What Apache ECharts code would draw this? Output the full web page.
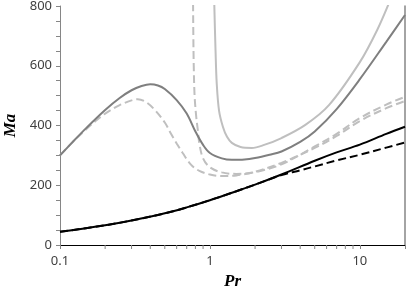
<!DOCTYPE html>
<html><head><meta charset="utf-8">
<script src="https://cdn.jsdelivr.net/npm/echarts@6/dist/echarts.min.js"></script>
<style>html,body{margin:0;padding:0;background:#fff}#c{width:407px;height:289px}</style>
</head><body><div id="c"></div>
<script>
// Data (Pr, Ma)
const blackSolidPr = [0.1, 0.2, 0.3, 0.5, 0.7, 1, 1.5, 2, 3, 5, 7, 10, 15, 20];
const blackSolidMa = [44, 66, 82, 106, 126, 150, 180, 202, 236, 282, 310, 336, 372, 396];
const blackDashPr = [0.1, 0.2, 0.3, 0.5, 0.7, 1, 1.5, 2, 3, 4, 5, 7, 10, 15, 20];
const blackDashMa = [44, 66, 82, 106, 126, 150, 180, 202, 234, 250, 263, 283, 302, 326, 343];
const darkSolidPr = [0.1, 0.12, 0.15, 0.2, 0.25, 0.3, 0.35, 0.4, 0.45, 0.5, 0.6, 0.7, 0.8, 0.9, 1, 1.2, 1.4, 1.7, 2, 2.5, 3, 4, 5, 7, 10, 15, 20];
const darkSolidMa = [300, 342, 392, 452, 492, 518, 532, 538, 534, 522, 485, 440, 380, 335, 308, 290, 285, 286, 291, 302, 313, 345, 380, 455, 555, 680, 770];
const greyDashPr = [0.1, 0.12, 0.15, 0.17, 0.2, 0.25, 0.3, 0.33, 0.37, 0.42, 0.5, 0.55, 0.6, 0.66, 0.75, 0.85, 1, 1.2, 1.5, 2, 3, 5, 7, 10, 15, 20];
const greyDashMa = [300, 342, 388, 412, 440, 468, 484, 488, 480, 457, 410, 372, 340, 307, 268, 248, 236, 231, 233, 245, 275, 325, 365, 415, 458, 482];
const lightSolidPr = [1.065, 1.07, 1.09, 1.11, 1.15, 1.22, 1.3, 1.4, 1.6, 1.9, 2.3, 3, 4.33, 6.22, 10, 13, 16];
const lightSolidMa = [850, 800, 650, 541, 450, 396, 362, 342, 328, 325, 335, 358, 402, 468, 612, 718, 822];
const lightDashPr = [0.77, 0.772, 0.775, 0.78, 0.79, 0.81, 0.83, 0.85, 0.9, 1, 1.2, 1.5, 2, 3, 5, 7, 10, 15, 20];
const lightDashMa = [850, 800, 700, 600, 500, 430, 385, 340, 290, 260, 243, 238, 244, 270, 330, 372, 425, 470, 496];
const xMinorTicks = [0.2, 0.3, 0.4, 0.5, 0.6, 0.7, 0.8, 0.9, 2, 3, 4, 5, 6, 7, 8, 9];
const xTickLabels = ['0.1', '1', '10'];

const zip = (a, b) => a.map((v, i) => [v, b[i]]);
const axisGrey = '#868686';
const lab = {color: '#404040', fontSize: 13, fontFamily: 'Noto Sans'};
const nameStyle = {fontFamily: 'Liberation Serif', fontStyle: 'italic', fontWeight: 'bold', fontSize: 17, color: '#000'};

function line(name, pr, ma, color, dashed, z) {
  return {
    name, type: 'line', data: zip(pr, ma), showSymbol: false, symbol: 'none',
    smooth: 0.35, z: z, clip: true,
    lineStyle: {color, width: 2, type: dashed ? [8, 4] : 'solid'}
  };
}

const chart = echarts.init(document.getElementById('c'), null, {renderer: 'canvas'});
chart.setOption({
  animation: false,
  grid: {left: 60, right: 2, top: 6, bottom: 44, containLabel: false, outerBoundsMode: 'none'},
  xAxis: [{
    type: 'log', logBase: 10, min: 0.1, max: 20,
    name: 'Pr', nameLocation: 'middle', nameGap: 26, nameTextStyle: nameStyle,
    axisLine: {lineStyle: {color: axisGrey, width: 1}},
    axisTick: {show: true, length: 4, inside: false, lineStyle: {color: axisGrey}},
    axisLabel: Object.assign({margin: 10, formatter: v => xTickLabels.indexOf(String(v)) >= 0 ? String(v) : ''}, lab),
    splitLine: {show: false}
  }, {
    type: 'log', logBase: 10, min: 0.1, max: 20, position: 'top',
    axisLine: {show: true, lineStyle: {color: '#000', width: 1}},
    axisTick: {show: false}, axisLabel: {show: false}, splitLine: {show: false}
  }],
  yAxis: [{
    type: 'value', min: 0, max: 800, interval: 200,
    name: 'Ma', nameLocation: 'middle', nameGap: 32, nameTextStyle: nameStyle,
    axisLine: {show: true, lineStyle: {color: axisGrey, width: 1}},
    axisTick: {show: true, length: 4, lineStyle: {color: axisGrey}},
    minorTick: {show: true, splitNumber: 4, length: 4, lineStyle: {color: axisGrey}},
    axisLabel: Object.assign({margin: 8}, lab),
    splitLine: {show: false}
  }, {
    type: 'value', min: 0, max: 800, position: 'right',
    axisLine: {show: true, lineStyle: {color: axisGrey, width: 1.5}},
    axisTick: {show: false}, axisLabel: {show: false}, splitLine: {show: false}
  }],
  series: [
    line('light solid', lightSolidPr, lightSolidMa, '#bfbfbf', false, 2),
    line('light dashed', lightDashPr, lightDashMa, '#bfbfbf', true, 2),
    line('grey dashed', greyDashPr, greyDashMa, '#bfbfbf', true, 2),
    line('dark solid', darkSolidPr, darkSolidMa, '#7f7f7f', false, 3),
    line('black dashed', blackDashPr, blackDashMa, '#000', true, 4),
    line('black solid', blackSolidPr, blackSolidMa, '#000', false, 4),
    {
      type: 'custom', name: 'minor x ticks', data: xMinorTicks.map(v => [v, 0]),
      clip: false, silent: true, z: 5,
      renderItem: (params, api) => {
        const p = api.coord([api.value(0), 0]);
        return {type: 'line', shape: {x1: p[0], y1: p[1], x2: p[0], y2: p[1] + 4},
          style: {stroke: axisGrey, lineWidth: 1}};
      }
    }
  ]
});
</script></body></html>
